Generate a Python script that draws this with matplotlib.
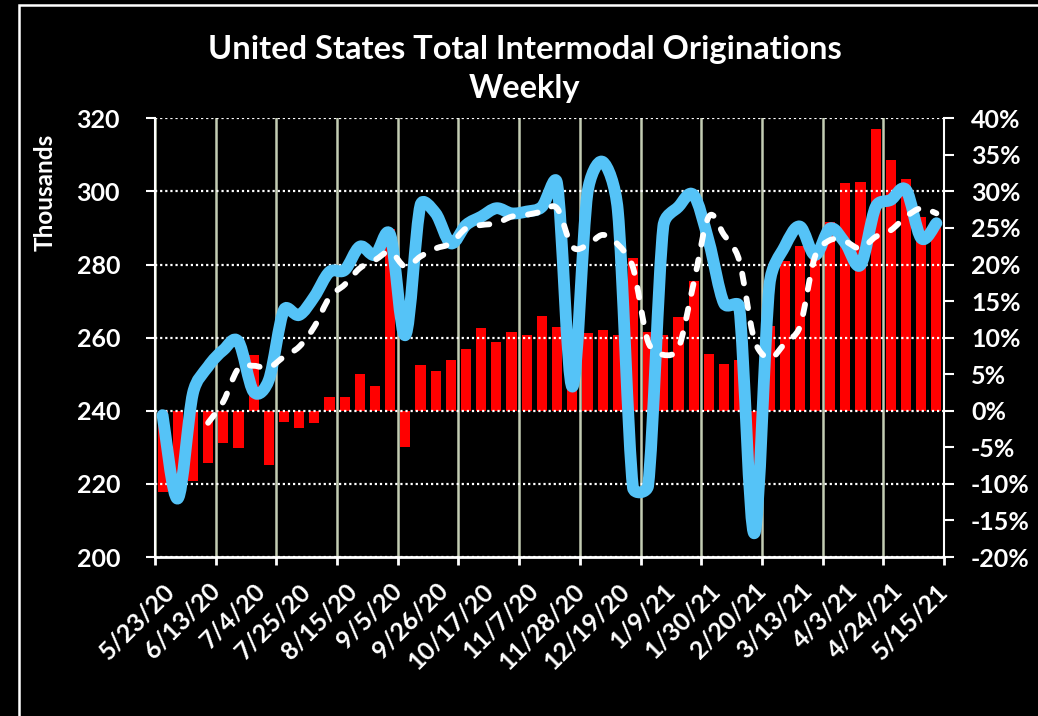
import matplotlib
matplotlib.use("Agg")
import matplotlib.pyplot as plt
import numpy as np
from matplotlib.path import Path
from matplotlib.patches import PathPatch, Rectangle
from matplotlib.ticker import FixedLocator, FuncFormatter, MultipleLocator

# ---------------- data ----------------
date_labels = ["5/23/20", "6/13/20", "7/4/20", "7/25/20", "8/15/20", "9/5/20",
               "9/26/20", "10/17/20", "11/7/20", "11/28/20", "12/19/20", "1/9/21",
               "1/30/21", "2/20/21", "3/13/21", "4/3/21", "4/24/21", "5/15/21"]
n_weeks = 52

# year-over-year change, % (red bars, right axis)
yoy_pct = [-11.1, -9.5, -9.6, -7.2, -4.4, -5.1, 7.6, -7.4, -1.6, -2.4,
           -1.7, 1.9, 1.9, 5.0, 3.4, 24.8, -5.0, 6.3, 5.5, 6.9,
           8.4, 11.3, 9.4, 10.8, 10.3, 12.9, 11.5, 11.1, 10.6, 11.1,
           10.3, 20.9, 10.8, 10.4, 12.8, 17.8, 7.7, 6.4, 6.9, -10.0,
           11.6, 20.5, 22.5, 21.0, 25.8, 31.1, 31.3, 38.5, 34.3, 31.7,
           26.5, 25.5]

# weekly originations, thousands (blue line, left axis)
weekly = [238.8, 216.0, 244.8, 252.1, 256.6, 258.9, 245.2, 248.4, 267.6, 266.2,
          271.2, 278.0, 278.5, 284.9, 282.6, 288.1, 260.7, 296.3, 294.0, 285.8,
          290.8, 293.1, 295.4, 294.0, 294.5, 295.8, 302.2, 246.6, 299.5, 308.1,
          294.9, 219.0, 219.5, 290.4, 295.8, 299.0, 286.3, 269.4, 268.5, 206.5,
          274.5, 284.9, 290.4, 282.6, 289.9, 285.8, 279.9, 295.8, 297.7, 300.4,
          287.2, 291.3]

# 4-week average, thousands (white dashed line, left axis), starts at week index 3
avg_start = 3
avg4 = [236.7, 242.5, 251.6, 252.3, 251.8, 254.8, 257.5, 263.0, 271.0, 274.5,
        279.0, 281.2, 283.5, 279.4, 282.2, 284.4, 285.8, 289.9, 290.8, 291.3,
        293.1, 293.6, 294.5, 295.4, 284.9, 285.3, 288.1, 285.5, 279.2, 258.8,
        255.3, 257.1, 274.9, 293.1, 288.1, 281.2, 259.4, 254.3, 258.4, 263.0,
        282.2, 286.7, 286.3, 284.4, 287.6, 289.4, 293.1, 295.4, 294.0]

title = "United States Total Intermodal Originations\nWeekly"

# ---------------- style ----------------
FONT = ["Lato", "DejaVu Sans"]
plt.rcParams["font.family"] = FONT
plt.rcParams["font.weight"] = "bold"

W, H = 1038, 716
PX = 72 / 100  # points per pixel
fig = plt.figure(figsize=(W / 100, H / 100), dpi=100, facecolor="black")

L, R, B, T = 155, 944, 557, 118.3
ax = fig.add_axes([L / W, 1 - B / H, (R - L) / W, (B - T) / H])
ax.set_facecolor("black")
ax2 = ax.twinx()

xc = np.arange(n_weeks) + 0.5

# bars on percent axis (drawn first, below)
ax.bar(xc, yoy_pct, width=0.67, color="#ff0000", edgecolor="none", zorder=1)
ax.set_ylim(-20, 40)
ax.set_xlim(0, n_weeks)

# percent axis on the right
ax.yaxis.tick_right()
ax.yaxis.set_major_locator(MultipleLocator(5))
ax.yaxis.set_major_formatter(FuncFormatter(lambda v, p: f"{v:.0f}%"))

# thousands axis on the left
ax2.yaxis.tick_left()
ax2.set_ylim(200, 320)
ax2.yaxis.set_major_locator(MultipleLocator(20))

# x ticks: marks/gridlines every 4 weeks, labels every 3 weeks
ax.xaxis.set_major_locator(FixedLocator(np.arange(0, n_weeks + 1, 4)))
ax.xaxis.set_major_formatter(FuncFormatter(lambda v, p: ""))
ax.xaxis.set_minor_locator(FixedLocator(xc[::3]))
ax.set_xticklabels(date_labels, minor=True, rotation=45, ha="right",
                   va="top", rotation_mode="anchor", color="white",
                   fontsize=18, fontweight="bold")
ax.tick_params(axis="x", which="minor", length=0, pad=22 * PX)
ax.tick_params(axis="x", which="major", length=8 * PX, width=2, color="white",
               direction="out")

ax.tick_params(axis="y", which="major", length=10 * PX, width=1.5,
               color="white", labelcolor="white", labelsize=18, pad=17 * PX)
ax2.tick_params(axis="y", which="major", length=9 * PX, width=1.5,
                color="white", labelcolor="white", labelsize=18, pad=26 * PX)
for lab in ax.get_yticklabels() + ax2.get_yticklabels():
    lab.set_fontweight("bold")

# vertical gridlines
ax.set_axisbelow(False)
ax.grid(axis="x", which="major", color="#c3ccb3", linewidth=1.8, linestyle="-")
# horizontal dotted gridlines on thousands axis
ax2.grid(axis="y", which="major", color="white", linewidth=1.6,
         linestyle=(0, (1, 1.3)))

for a in (ax, ax2):
    for s in a.spines.values():
        s.set_visible(False)
ax.spines["bottom"].set_visible(True)
ax.spines["bottom"].set_color("white")
ax.spines["bottom"].set_linewidth(2)
ax.spines["bottom"].set_zorder(5)
ax2.spines["left"].set_visible(True)
ax2.spines["left"].set_color("white")
ax2.spines["left"].set_linewidth(1.5)
ax2.spines["right"].set_visible(True)
ax2.spines["right"].set_color("white")
ax2.spines["right"].set_linewidth(1.5)

# scale of one data unit in pixels (used only to measure lengths for smoothing)
SX = (R - L) / n_weeks
SY = (B - T) / 120.0


def smooth_path(xs, ys):
    """Excel-style smoothed line: cubic Bezier through the points with
    control-point distance limited by the segment length."""
    pts = np.column_stack([xs, ys]).astype(float)
    scale = np.array([SX, SY])
    n = len(pts)
    verts = [pts[0]]
    codes = [Path.MOVETO]
    for i in range(n - 1):
        p0 = pts[i - 1] if i > 0 else pts[i]
        p1 = pts[i]
        p2 = pts[i + 1]
        p3 = pts[i + 2] if i + 2 < n else pts[i + 1]
        d12 = np.hypot(*((p2 - p1) * scale))
        d02 = np.hypot(*((p2 - p0) * scale))
        d13 = np.hypot(*((p3 - p1) * scale))
        f0 = 1 / 6.0 if d02 == 0 else min(1 / 6.0, 0.5 * d12 / d02)
        f1 = 1 / 6.0 if d13 == 0 else min(1 / 6.0, 0.5 * d12 / d13)
        c1 = p1 + (p2 - p0) * f0
        c2 = p2 - (p3 - p1) * f1
        verts += [c1, c2, p2]
        codes += [Path.CURVE4] * 3
    return Path(verts, codes)


blue = PathPatch(smooth_path(xc, weekly), fill=False, edgecolor="#55c3f7",
                 linewidth=8.5, capstyle="round", joinstyle="round", zorder=3)
ax2.add_patch(blue)
dash = PathPatch(smooth_path(xc[avg_start:], avg4), fill=False,
                 edgecolor="white", linewidth=4.2,
                 linestyle=(0, (1.7, 2.6)), capstyle="round",
                 joinstyle="round", zorder=4)
ax2.add_patch(dash)

# axis title
fig.text(45 / W, 1 - 192 / H, "Thousands", rotation=90, color="white",
         fontsize=17.5, fontweight="bold", ha="center", va="center")

# chart title
fig.text(525 / W, 1 - 69 / H, title, color="white", fontsize=23.5,
         fontweight="bold", ha="center", va="center", linespacing=1.42)

# outer border
fig.add_artist(Rectangle((19 / W, -0.1), 1.2, 1.1 - 5 / H,
                         transform=fig.transFigure, fill=False,
                         edgecolor="white", linewidth=1.8))

fig.savefig("out.png", dpi=100, facecolor="black")
